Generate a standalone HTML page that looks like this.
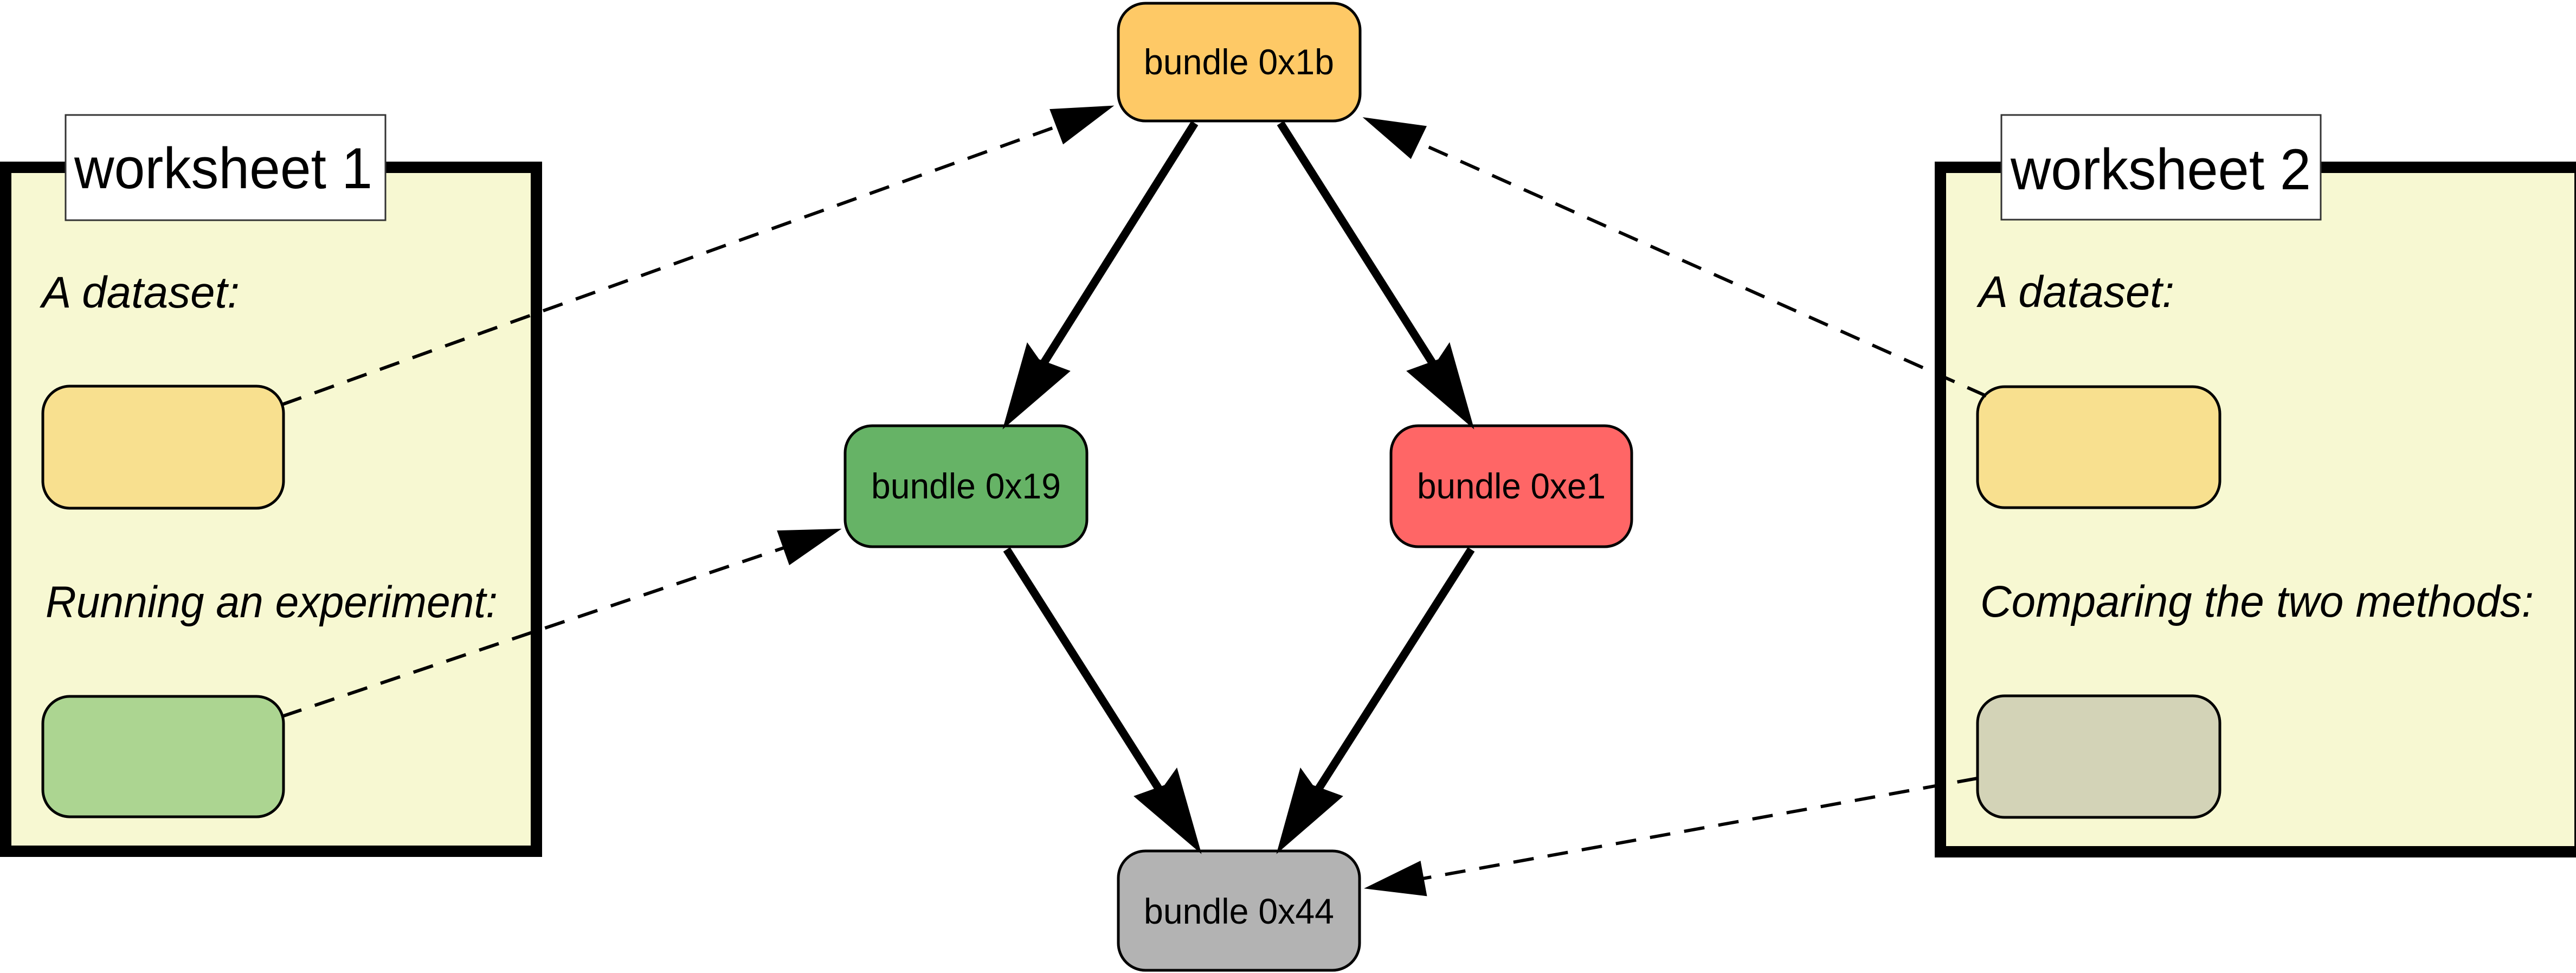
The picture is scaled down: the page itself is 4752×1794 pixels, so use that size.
<!DOCTYPE html>
<html><head><meta charset="utf-8"><style>html,body{margin:0;padding:0;background:#fff}svg{display:block}</style></head><body>
<svg width="4752" height="1794" viewBox="0 0 4752 1794" xmlns="http://www.w3.org/2000/svg" font-family="Liberation Sans, DejaVu Sans, sans-serif">
<!-- worksheet 1 -->
<rect x="10.5" y="308.5" width="979" height="1261" fill="#f7f8d2" stroke="#000" stroke-width="21"/>
<rect x="121" y="212" width="590" height="194" fill="#fff" stroke="#333" stroke-width="3"/>
<text x="137" y="347" font-size="107" textLength="550" lengthAdjust="spacingAndGlyphs">worksheet 1</text>
<text x="77" y="567" font-size="82" font-style="italic" textLength="365" lengthAdjust="spacingAndGlyphs">A dataset:</text>
<rect x="79" y="712" width="444" height="225" rx="50" fill="#f8e08f" stroke="#000" stroke-width="5"/>
<text x="84" y="1138" font-size="82" font-style="italic" textLength="834" lengthAdjust="spacingAndGlyphs">Running an experiment:</text>
<rect x="79" y="1284" width="444" height="222" rx="50" fill="#acd591" stroke="#000" stroke-width="5"/>
<!-- worksheet 2 -->
<rect x="3579.5" y="308.5" width="1180" height="1262" fill="#f7f8d2" stroke="#000" stroke-width="21"/>
<rect x="3692" y="212" width="589" height="193" fill="#fff" stroke="#333" stroke-width="3"/>
<text x="3709" y="349" font-size="107" textLength="554" lengthAdjust="spacingAndGlyphs">worksheet 2</text>
<text x="3650" y="566" font-size="82" font-style="italic" textLength="361" lengthAdjust="spacingAndGlyphs">A dataset:</text>
<rect x="3648" y="713" width="447" height="223" rx="50" fill="#f8e08f" stroke="#000" stroke-width="5"/>
<text x="3653" y="1137" font-size="82" font-style="italic" textLength="1021" lengthAdjust="spacingAndGlyphs">Comparing the two methods:</text>
<rect x="3648" y="1283" width="447" height="224" rx="50" fill="#d3d3b7" stroke="#000" stroke-width="5"/>
<!-- nodes -->
<rect x="2063" y="6" width="446" height="217" rx="50" fill="#fec966" stroke="#000" stroke-width="5"/>
<text x="2110" y="137" font-size="66" textLength="351" lengthAdjust="spacingAndGlyphs">bundle 0x1b</text>
<rect x="1559" y="785" width="446" height="223" rx="50" fill="#66b366" stroke="#000" stroke-width="5"/>
<text x="1607" y="919" font-size="66" textLength="350" lengthAdjust="spacingAndGlyphs">bundle 0x19</text>
<rect x="2566" y="785" width="444" height="223" rx="50" fill="#ff6666" stroke="#000" stroke-width="5"/>
<text x="2614" y="919" font-size="66" textLength="348" lengthAdjust="spacingAndGlyphs">bundle 0xe1</text>
<rect x="2063" y="1569" width="445" height="220" rx="50" fill="#b3b3b3" stroke="#000" stroke-width="5"/>
<text x="2110" y="1703" font-size="66" textLength="351" lengthAdjust="spacingAndGlyphs">bundle 0x44</text>
<!-- thick arrows -->
<g stroke="#000" stroke-width="15" fill="none">
<line x1="2204" y1="227" x2="1925" y2="670"/>
<line x1="2362" y1="227" x2="2643" y2="670"/>
<line x1="1857" y1="1013" x2="2138" y2="1455"/>
<line x1="2714" y1="1013" x2="2432" y2="1455"/>
</g>
<g fill="#000" stroke="#000" stroke-width="6" stroke-linejoin="miter">
<polygon points="1855,783 1896,638 1915,665 1969,685"/>
<polygon points="2714,783 2673,638 2655,665 2600,685"/>
<polygon points="2211,1566 2170,1422 2150,1450 2097,1469"/>
<polygon points="2360,1566 2400,1422 2420,1450 2472,1469"/>
</g>
<!-- dashed arrows -->
<g stroke="#000" stroke-width="6" stroke-dasharray="38 26" fill="none">
<line x1="520" y1="746" x2="1950" y2="233"/>
<line x1="3664" y1="730" x2="2615" y2="262"/>
<line x1="520" y1="1321" x2="1446" y2="1010"/>
<line x1="3648" y1="1435" x2="2624" y2="1620"/>
</g>
<g fill="#000" stroke="#000" stroke-width="4">
<polygon points="2049,197 1939,203 1962,263"/>
<polygon points="2520,219 2629,234 2602,290"/>
<polygon points="1546,977 1436,980 1457,1039"/>
<polygon points="2523,1637 2619,1590 2630,1650"/>
</g>
</svg>
</body></html>
